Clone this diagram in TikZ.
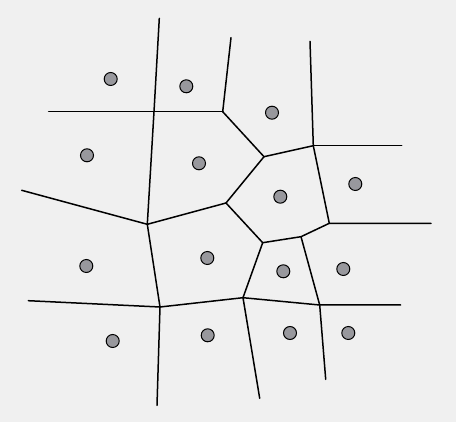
\documentclass[tikz,border=0pt]{standalone}
\begin{document}
\begin{tikzpicture}[x=1pt,y=-1pt,
  site/.style={circle,draw=black,fill=siteGray,line width=1pt,minimum size=13pt,inner sep=0pt},
  edge/.style={line width=1.5pt,black,line cap=round,line join=round}]
\definecolor{siteGray}{RGB}{152,152,157}
\definecolor{bgGray}{RGB}{240,240,240}
\fill[bgGray] (0,0) rectangle (456,422);
\useasboundingbox (0,0) rectangle (456,422);
% vertices
\coordinate (A) at (159.3,18.3);
\coordinate (B) at (154,111.7);
\coordinate (C) at (48.7,111.7);
\coordinate (D) at (222.7,111.7);
\coordinate (E) at (231,37.7);
\coordinate (F) at (264,156.7);
\coordinate (G) at (313.3,145.7);
\coordinate (H) at (310,41.3);
\coordinate (I) at (401.7,145.7);
\coordinate (J) at (226,203);
\coordinate (K) at (147.3,224.3);
\coordinate (L) at (21.7,190.3);
\coordinate (M) at (160,307);
\coordinate (N) at (28.3,300.7);
\coordinate (O) at (157,405.3);
\coordinate (P) at (262.7,242.7);
\coordinate (Q) at (301,236.7);
\coordinate (R) at (329.3,223.3);
\coordinate (S) at (431,223.3);
\coordinate (T) at (243,297.7);
\coordinate (U) at (319.7,305);
\coordinate (V) at (400.7,305);
\coordinate (W) at (325.7,379.3);
\coordinate (X) at (259.7,398.3);
% edges
\draw[edge] (A) -- (B) -- (K);
\draw[edge] (C) -- (B) -- (D);
\draw[edge] (D) -- (E);
\draw[edge] (D) -- (F) -- (G) -- (H);
\draw[edge] (G) -- (I);
\draw[edge] (G) -- (R);
\draw[edge] (F) -- (J) -- (K) -- (L);
\draw[edge] (K) -- (M) -- (N);
\draw[edge] (M) -- (O);
\draw[edge] (M) -- (T);
\draw[edge] (J) -- (P) -- (Q) -- (R) -- (S);
\draw[edge] (P) -- (T) -- (U) -- (V);
\draw[edge] (Q) -- (U) -- (W);
\draw[edge] (T) -- (X);
% sites
\node[site] (p1) at (110.7,79) {};
\node[site] (p2) at (186.3,86.3) {};
\node[site] (p3) at (272,112.7) {};
\node[site] (p4) at (87,155.3) {};
\node[site] (p5) at (199,163.3) {};
\node[site] (p6) at (280.3,196.7) {};
\node[site] (p7) at (355.3,184) {};
\node[site] (p8) at (86.3,266) {};
\node[site] (p9) at (207.3,258) {};
\node[site] (p10) at (283.3,271.3) {};
\node[site] (p11) at (343.3,269) {};
\node[site] (p12) at (112.7,341) {};
\node[site] (p13) at (207.7,335.3) {};
\node[site] (p14) at (290,333) {};
\node[site] (p15) at (348.3,333) {};
\end{tikzpicture}
\end{document}
